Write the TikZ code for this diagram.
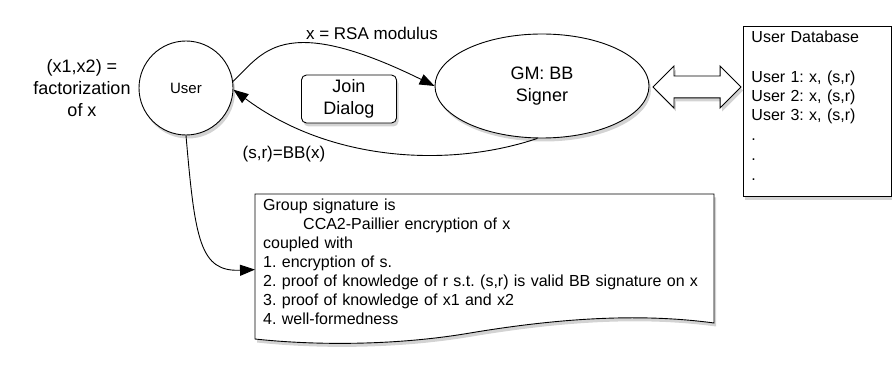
\documentclass[tikz,border=0pt]{standalone}
\usepackage{fontspec}
\setmainfont{Liberation Sans}
\frenchspacing
\usetikzlibrary{arrows.meta,shapes.geometric,shapes.arrows,shadows}

\tikzset{
  shade box/.style={draw,fill=white,line width=0.9pt,drop shadow={shadow xshift=2pt,shadow yshift=-3.5pt,opacity=0.35}},
  big font/.style={font=\fontsize{18}{22}\selectfont},
  mid font/.style={font=\fontsize{17}{20}\selectfont},
  list font/.style={font=\fontsize{16}{19}\selectfont},
  flow/.style={line width=0.9pt,-{Triangle[length=15pt,width=11pt]}},
}

\begin{document}
\begin{tikzpicture}[x=1pt,y=-1pt]
\useasboundingbox (0,0) rectangle (892,374);
\node [shade box,circle,minimum size=94pt,inner sep=0pt,font=\fontsize{15}{18}\selectfont] (user) at (186,88) {User};
\node [big font,align=center] (factor) at (82,88) {(x1,x2) =\\factorization\\of x};
\node [shade box,ellipse,minimum width=214pt,minimum height=104pt,big font,align=center] (gm) at (542,86) {GM: BB\\Signer};
\node [shade box,rounded corners=5pt,minimum width=95pt,minimum height=48pt,big font,align=center] (join) at (349,99) {Join\\Dialog};
\node [shade box,double arrow,double arrow head extend=10pt,inner sep=10.5pt,minimum height=88pt] (link) at (697,87) {};
\node [shade box,anchor=north west,minimum width=148pt,text width=132pt,inner xsep=8pt,inner ysep=4pt,list font,align=left] (db) at (743,26)
{User Database\\[21pt]User 1: x, (s,r)\\User 2: x, (s,r)\\User 3: x, (s,r)\\[1pt].\\[1pt].\\[1pt].\\[-7pt]\mbox{}};

% group signature sheet
\draw [shade box] (255,194) -- (714,194) -- (714,323) .. controls (640,313) and (560,318) .. (470,333) .. controls (400,345) and (320,346) .. (255,339) -- cycle;
\node [anchor=north west,list font,align=left,text width=443pt,inner xsep=8pt,inner ysep=4.5pt] (sig) at (255,194)
{Group signature is\\\hspace*{40pt}CCA2-Paillier encryption of x\\coupled with\\1. encryption of s.\\2. proof of knowledge of r s.t. (s,r) is valid BB signature on x\\3. proof of knowledge of x1 and x2\\4. well-formedness};

\node [mid font] (rsa) at (372,33) {x = RSA modulus};
\node [mid font] (bb) at (284,154) {(s,r)=BB(x)};

\draw [flow] (user.8) .. controls (262,55) and (280,10) .. (gm.west);
\draw [flow] (gm.265) .. controls (450,168) and (330,162) .. (user.-2);
\draw [flow] (user.south) .. controls (195,240) and (200,272) .. ([yshift=-8pt]sig.west);
\end{tikzpicture}
\end{document}
